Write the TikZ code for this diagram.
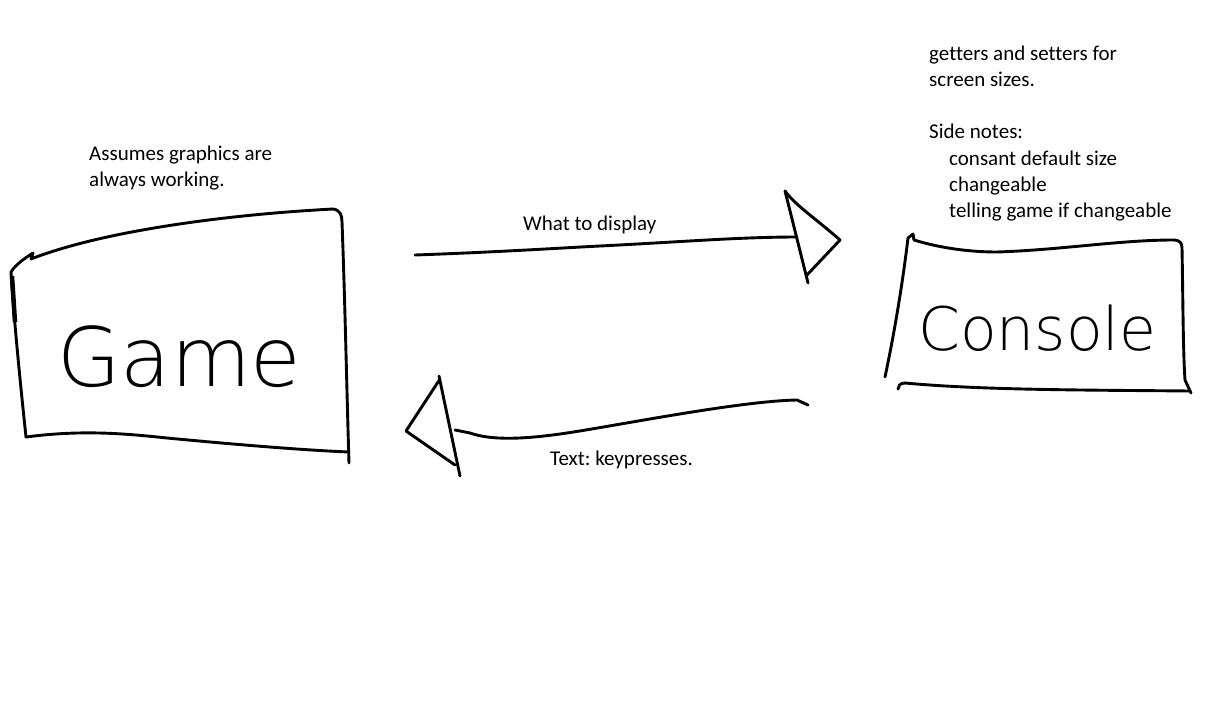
\documentclass[tikz,border=0pt]{standalone}
\usepackage{fontspec}
\setmainfont{Carlito}[Ligatures={NoCommon}]
\newfontfamily\handfont{DejaVu Sans ExtraLight}
\frenchspacing
\begin{document}
\begin{tikzpicture}[x=1pt,y=-1pt,
  inkline/.style={draw=black,line width=2.9pt,line cap=round,line join=round},
  note/.style={inner sep=0pt,anchor=base west,font=\fontsize{21}{26}\selectfont},
  bigword/.style={inner sep=0pt,anchor=base west}]
\fill[white] (0,0) rectangle (1216,725);
\useasboundingbox (0,0) rectangle (1216,725);

% Game box
\node[bigword,font=\handfont\fontsize{82}{90}\selectfont] (game) at (57,386) {Game};
\draw[inkline] (26,437) .. controls (20,380) and (14,320) .. (11,272)
  .. controls (15,265) and (25,258) .. (33,253) -- (31,259)
  .. controls (100,232) and (220,215) .. (333,209)
  .. controls (340,210) and (342,215) .. (342,222)
  .. controls (345,300) and (347,400) .. (349,463);
\draw[inkline] (26,437) .. controls (80,430) and (120,433) .. (167,438)
  .. controls (230,444) and (300,450) .. (349,452);
\draw[line width=4.5pt] (12,276) -- (15,322);

% Console box
\node[bigword,font=\handfont\fontsize{60}{66}\selectfont] (console) at (918,350) {Console};
\draw[inkline] (885,377) .. controls (895,330) and (903,280) .. (908,238) -- (913,234) -- (914,240)
  .. controls (930,245) and (960,252) .. (997,252)
  .. controls (1060,250) and (1120,240) .. (1173,240)
  .. controls (1180,240) and (1182,243) .. (1182,248)
  .. controls (1183,300) and (1183,350) .. (1185,380) -- (1191,393);
\draw[inkline] (898,389) .. controls (898,386) and (900,383) .. (905,383)
  .. controls (980,390) and (1080,390) .. (1190,391);

% Arrow: what to display
\coordinate (a1s) at (415,255);
\coordinate (a1e) at (797,237);
\draw[inkline] (a1s) .. controls (500,252) and (560,248) .. (600,246)
  .. controls (680,242) and (740,237) .. (a1e);
\coordinate (h1t) at (785,191);
\coordinate (h1b) at (808,283);
\coordinate (h1p) at (840,240);
\draw[inkline] (h1t) -- (h1b);
\draw[inkline] (h1t) .. controls (795,205) and (815,218) .. (h1p) -- (807,275);

% Arrow: keypresses
\coordinate (a2s) at (808,405);
\coordinate (a2e) at (455,430);
\draw[inkline] (a2s) -- (797,400) .. controls (740,401) and (620,425) .. (567,433)
  .. controls (520,440) and (490,440) .. (470,433) -- (a2e);
\coordinate (h2t) at (439,376);
\coordinate (h2b) at (460,476);
\coordinate (h2p) at (406,431);
\draw[inkline] (h2t) -- (h2b);
\draw[inkline] (440,379) -- (h2p) -- (455,465);

% Labels
\node[note] (l1) at (89,160) {Assumes graphics are};
\node[note] (l2) at (89,186) {always working.};
\node[note] (l3) at (523,230) {What to display};
\node[note] (l4) at (550,465) {Text: keypresses.};
\node[note] (r1) at (929,61) {getters and setters for};
\node[note] (r2) at (929,87) {screen sizes.};
\node[note] (r3) at (929,139) {Side notes:};
\node[note] (r4) at (949,165) {consant default size};
\node[note] (r5) at (949,191) {changeable};
\node[note] (r6) at (949,217) {telling game if changeable};
\end{tikzpicture}
\end{document}
